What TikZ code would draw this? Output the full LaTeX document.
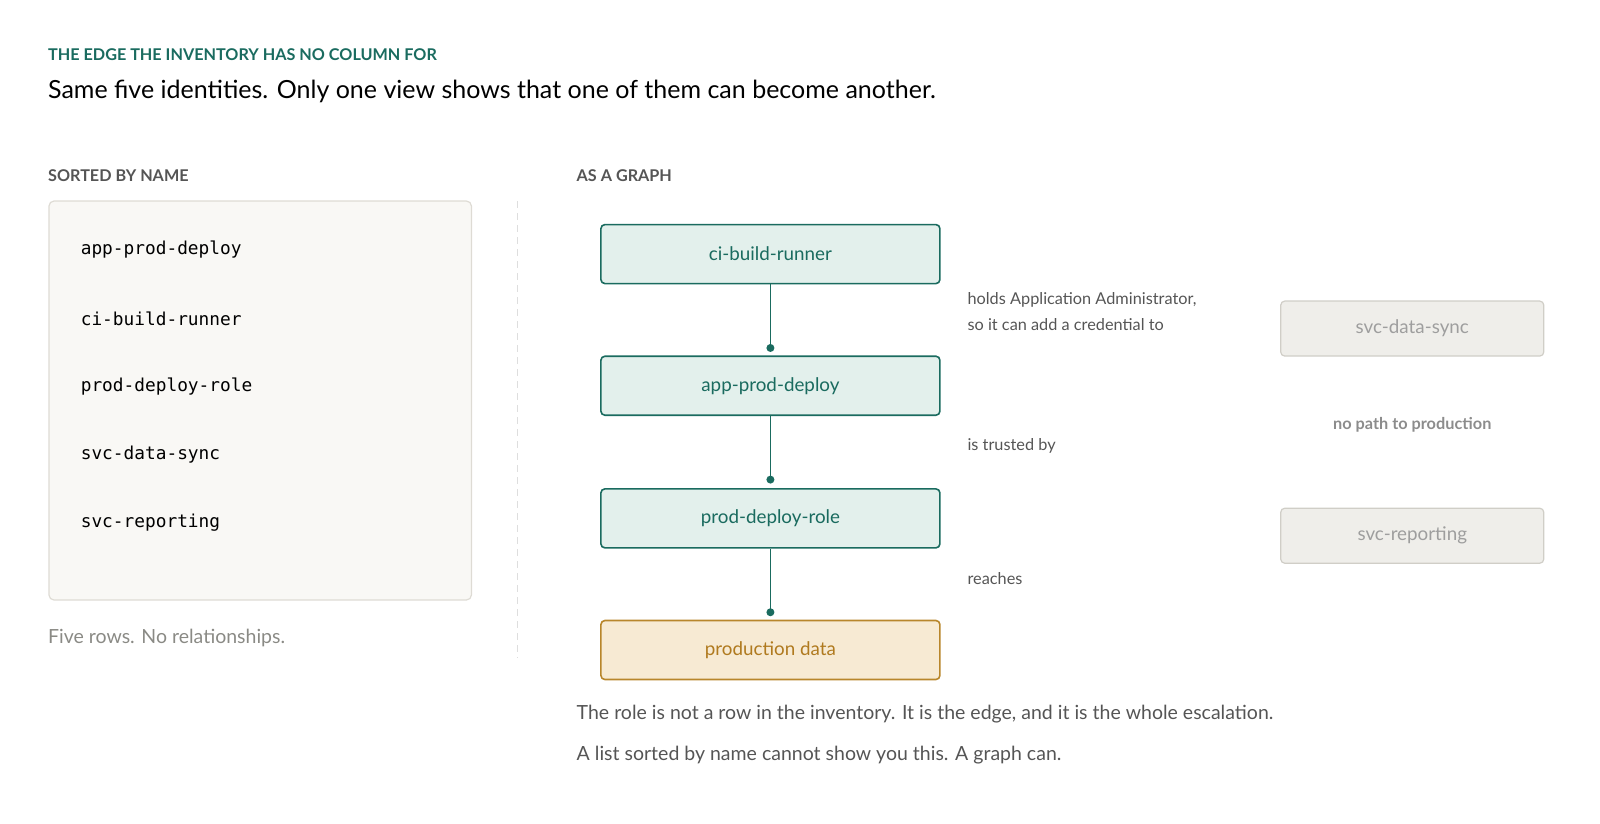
\documentclass[tikz,border=0pt]{standalone}
\usepackage{fontspec}
\setmainfont{Lato}
\setmonofont{DejaVu Sans Mono}
\begin{document}
\definecolor{teal}{HTML}{1A6B5F}
\definecolor{tealfill}{HTML}{E3F0EC}
\definecolor{ambr}{HTML}{B8862B}
\definecolor{ambrtxt}{HTML}{B07A1F}
\definecolor{ambrfill}{HTML}{F7EAD3}
\definecolor{txt}{HTML}{555555}
\definecolor{lgray}{HTML}{8A8A85}
\definecolor{pane}{HTML}{F9F8F5}
\definecolor{paneb}{HTML}{DEDBD4}
\definecolor{qfill}{HTML}{EFEEEA}
\definecolor{qdraw}{HTML}{D0CEC7}
\begin{tikzpicture}[x=1.0204pt,y=-1.0204pt,
  lbl/.style={anchor=west,inner sep=0,font=\fontsize{16.2}{18}\selectfont\bfseries},
  gn/.style={draw=teal,fill=tealfill,text=teal,rounded corners=4pt,line width=1.6pt,minimum width=339pt,minimum height=59pt,font=\fontsize{18.8}{20}\selectfont},
  pn/.style={gn,draw=ambr,fill=ambrfill,text=ambrtxt},
  qn/.style={draw=qdraw,fill=qfill,text=black!38,rounded corners=4pt,line width=1.2pt,minimum width=263pt,minimum height=55pt,font=\fontsize{18.8}{20}\selectfont},
  item/.style={anchor=west,inner sep=0,font=\fontsize{17.8}{20}\selectfont\ttfamily},
  note/.style={anchor=west,inner sep=0,text=txt,font=\fontsize{16.3}{19}\selectfont},
  edge/.style={teal,line width=1.8pt},
  dot/.style={circle,fill=teal,inner sep=0,minimum size=8pt}]
\useasboundingbox (0,0) rectangle (1568,807.5);
\node[lbl,text=teal] (h1) at (47,54) {THE EDGE THE INVENTORY HAS NO COLUMN FOR};
\node[anchor=west,inner sep=0,font=\fontsize{25}{28}\selectfont] (h2) at (47,90) {Same five identities. Only one view shows that one of them can become another.};
\node[lbl,text=txt] (s1) at (47,172) {SORTED BY NAME};
\node[lbl,text=txt] (s2) at (565,172) {AS A GRAPH};
\draw[draw=paneb,fill=pane,rounded corners=5pt,line width=1.2pt] (48,197) rectangle (462,588);
\node[item] (i1) at (79,245) {app-prod-deploy};
\node[item] (i2) at (79,312) {ci-build-runner};
\node[item] (i3) at (79,379) {prod-deploy-role};
\node[item] (i4) at (79,445) {svc-data-sync};
\node[item] (i5) at (79,512) {svc-reporting};
\node[anchor=west,inner sep=0,text=lgray,font=\fontsize{19.5}{22}\selectfont] (f) at (47,625) {Five rows. No relationships.};
\draw[black!13,line width=1pt,dash pattern=on 7pt off 5pt] (507,197) -- (507,645);
\node[gn] (a) at (755,249) {ci-build-runner};
\node[gn] (b) at (755,378) {app-prod-deploy};
\node[gn] (c) at (755,508) {prod-deploy-role};
\node[pn] (d) at (755,637) {production data};
\coordinate (e1) at (755,341);
\coordinate (e2) at (755,470);
\coordinate (e3) at (755,600);
\draw[edge] (a.south) -- (e1); \node[dot] at (e1) {};
\draw[edge] (b.south) -- (e2); \node[dot] at (e2) {};
\draw[edge] (c.south) -- (e3); \node[dot] at (e3) {};
\node[note] (n1) at (948,294) {holds Application Administrator,};
\node[note] (n2) at (948,318) {so it can add a credential to};
\node[note] (n3) at (948,437) {is trusted by};
\node[note] (n4) at (948,567) {reaches};
\node[qn] (g1) at (1384,322) {svc-data-sync};
\node[qn] (g2) at (1384,525) {svc-reporting};
\node[inner sep=0,text=black!45,font=\fontsize{16.3}{19}\selectfont\bfseries] (np) at (1384,416) {no path to production};
\node[anchor=west,inner sep=0,text=txt,font=\fontsize{19.5}{22}\selectfont] (b1) at (565,700) {The role is not a row in the inventory. It is the edge, and it is the whole escalation.};
\node[anchor=west,inner sep=0,text=txt,font=\fontsize{19.5}{22}\selectfont] (b2) at (565,740) {A list sorted by name cannot show you this. A graph can.};
\end{tikzpicture}
\end{document}
